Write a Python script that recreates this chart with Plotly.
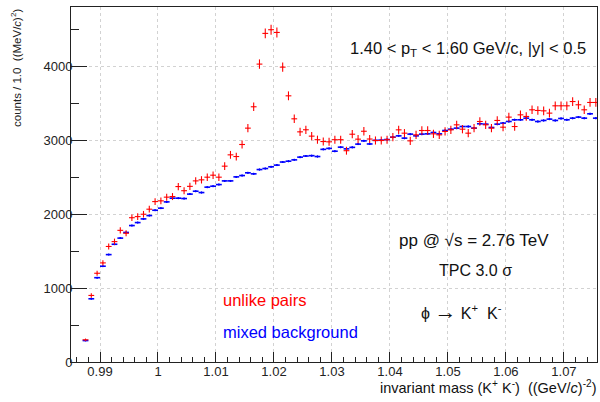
import math
import plotly.graph_objects as go

# histogram binning (bin width 0.001 GeV/c^2, first bin centre 0.9875)
mass = [round(0.9875 + 0.001 * i, 4) for i in range(89)]

unlike_pairs = [
    300, 900, 1200, 1340, 1562, 1628, 1780, 1741, 1951, 1966,
    1998, 2066, 2169, 2179, 2229, 2237, 2372, 2316, 2375, 2449,
    2463, 2499, 2526, 2499, 2648, 2801, 2778, 2941, 3162, 3451,
    4028, 4443, 4493, 4456, 3987, 3599, 3288, 3112, 3140, 3054,
    3006, 2981, 2977, 3006, 3006, 2857, 3080, 3013, 3120, 3015,
    2995, 2995, 3006, 3040, 3139, 3094, 2990, 3071, 3130, 3130,
    3085, 3071, 3117, 3139, 3207, 3148, 3094, 3162, 3252, 3207,
    3162, 3266, 3175, 3311, 3184, 3342, 3320, 3410, 3401, 3396,
    3365, 3464, 3464, 3464, 3522, 3478, 3410, 3509, 3509,
]

mixed_background = [
    290, 855, 1140, 1295, 1452, 1592, 1675, 1752, 1845, 1885,
    1935, 1980, 2052, 2080, 2165, 2215, 2215, 2210, 2270, 2309,
    2291, 2364, 2377, 2399, 2449, 2449, 2503, 2521, 2558, 2544,
    2602, 2616, 2639, 2662, 2704, 2715, 2733, 2770, 2785, 2790,
    2778, 2875, 2888, 2850, 2905, 2882, 2902, 2946, 2990, 2948,
    2997, 3000, 3008, 3040, 3058, 3027, 3081, 3058, 3081, 3085,
    3103, 3085, 3130, 3148, 3162, 3184, 3184, 3162, 3221, 3216,
    3171, 3216, 3230, 3252, 3275, 3275, 3297, 3275, 3252, 3266,
    3284, 3266, 3293, 3275, 3297, 3311, 3297, 3356, 3297,
]

y_ticks = [0, 1000, 2000, 3000, 4000]
x_ticks = [0.99, 1.0, 1.01, 1.02, 1.03, 1.04, 1.05, 1.06, 1.07]
x_tick_labels = ["0.99", "1", "1.01", "1.02", "1.03", "1.04", "1.05", "1.06", "1.07"]

FONT = "Liberation Sans, Arial, sans-serif"

fig = go.Figure()

fig.add_trace(go.Scatter(
    x=mass, y=mixed_background, mode="markers",
    marker=dict(size=2, color="#0000ff"),
    error_x=dict(type="constant", value=0.0005, width=0, thickness=1.6, color="#0000ff"),
    error_y=dict(type="data", array=[math.sqrt(v) * 0.25 for v in mixed_background],
                 width=0, thickness=1, color="#0000ff"),
    showlegend=False, hoverinfo="x+y",
))

fig.add_trace(go.Scatter(
    x=mass, y=unlike_pairs, mode="markers",
    marker=dict(size=1, color="#ff0000"),
    error_x=dict(type="constant", value=0.0005, width=0, thickness=1.1, color="#ff0000"),
    error_y=dict(type="data", array=[math.sqrt(v) for v in unlike_pairs],
                 width=0, thickness=1.1, color="#ff0000"),
    showlegend=False, hoverinfo="x+y",
))

axis_common = dict(
    showline=True, linecolor="#222222", linewidth=1, mirror=True,
    showgrid=True, gridcolor="#d2d2d2", griddash="dot", gridwidth=1,
    zeroline=False, ticks="inside", tickcolor="#222222",
    tickfont=dict(family=FONT, size=13, color="#222222"),
)

fig.update_xaxes(
    range=[0.985, 1.0757], tickvals=x_ticks, ticktext=x_tick_labels,
    ticklen=10, tickwidth=1, ticklabelstandoff=-3,
    minor=dict(ticks="inside", ticklen=5, dtick=0.002, tick0=0.99, tickcolor="#222222", showgrid=False),
    **axis_common,
)
fig.update_yaxes(
    range=[0, 4800], tickvals=y_ticks,
    ticklen=16, tickwidth=1, ticklabelstandoff=-5,
    minor=dict(ticks="inside", ticklen=8, dtick=500, tick0=0, tickcolor="#222222", showgrid=False),
    **axis_common,
)

L, R, T, B = 71, 3, 7, 40
W, H = 600, 402
pw, ph = W - L - R, H - T - B


def px(x):
    return (x - L) / pw


def py(y):
    return (H - B - y) / ph


def ann(text, x, y, size, color="#111111", xanchor="left", textangle=0):
    fig.add_annotation(
        text=text, x=px(x), y=py(y), xref="paper", yref="paper",
        xanchor=xanchor, yanchor="middle", showarrow=False, textangle=textangle,
        font=dict(family=FONT, size=size, color=color),
    )


ann("1.40 &lt; p<sub>T</sub> &lt; 1.60 GeV/c, |y| &lt; 0.5", 588, 49, 16.5, xanchor="right")
ann("pp @ √s = 2.76 TeV", 397, 240, 17)
ann("TPC 3.0 σ", 437, 270, 16)
ann("ϕ <span style='font-size:22px'>→</span> K<sup>+</sup>  K<sup>-</sup>", 419, 311, 16)
ann("unlike pairs", 221, 300, 16.5, color="#ff0000")
ann("mixed background", 221, 332, 16.5, color="#0000ff")
ann("invariant mass (K<sup>+</sup> K<sup>-</sup>)  ((GeV/<i>c</i>)<sup>-2</sup>)", 599, 387, 14.5, xanchor="right")
fig.add_annotation(
    text="counts / 1.0  ((MeV/<i>c</i>)<sup>2</sup>)", x=px(16), y=py(68),
    xref="paper", yref="paper", xanchor="center", yanchor="middle",
    showarrow=False, textangle=-90, font=dict(family=FONT, size=11.5, color="#222222"),
)

fig.update_layout(
    width=W, height=H, margin=dict(l=L, r=R, t=T, b=B),
    paper_bgcolor="white", plot_bgcolor="white",
    font=dict(family=FONT),
)

fig.write_html(
    "out.html",
    config={"displayModeBar": False},
    post_script="document.body.style.margin='0px';document.body.style.overflow='hidden';",
)
